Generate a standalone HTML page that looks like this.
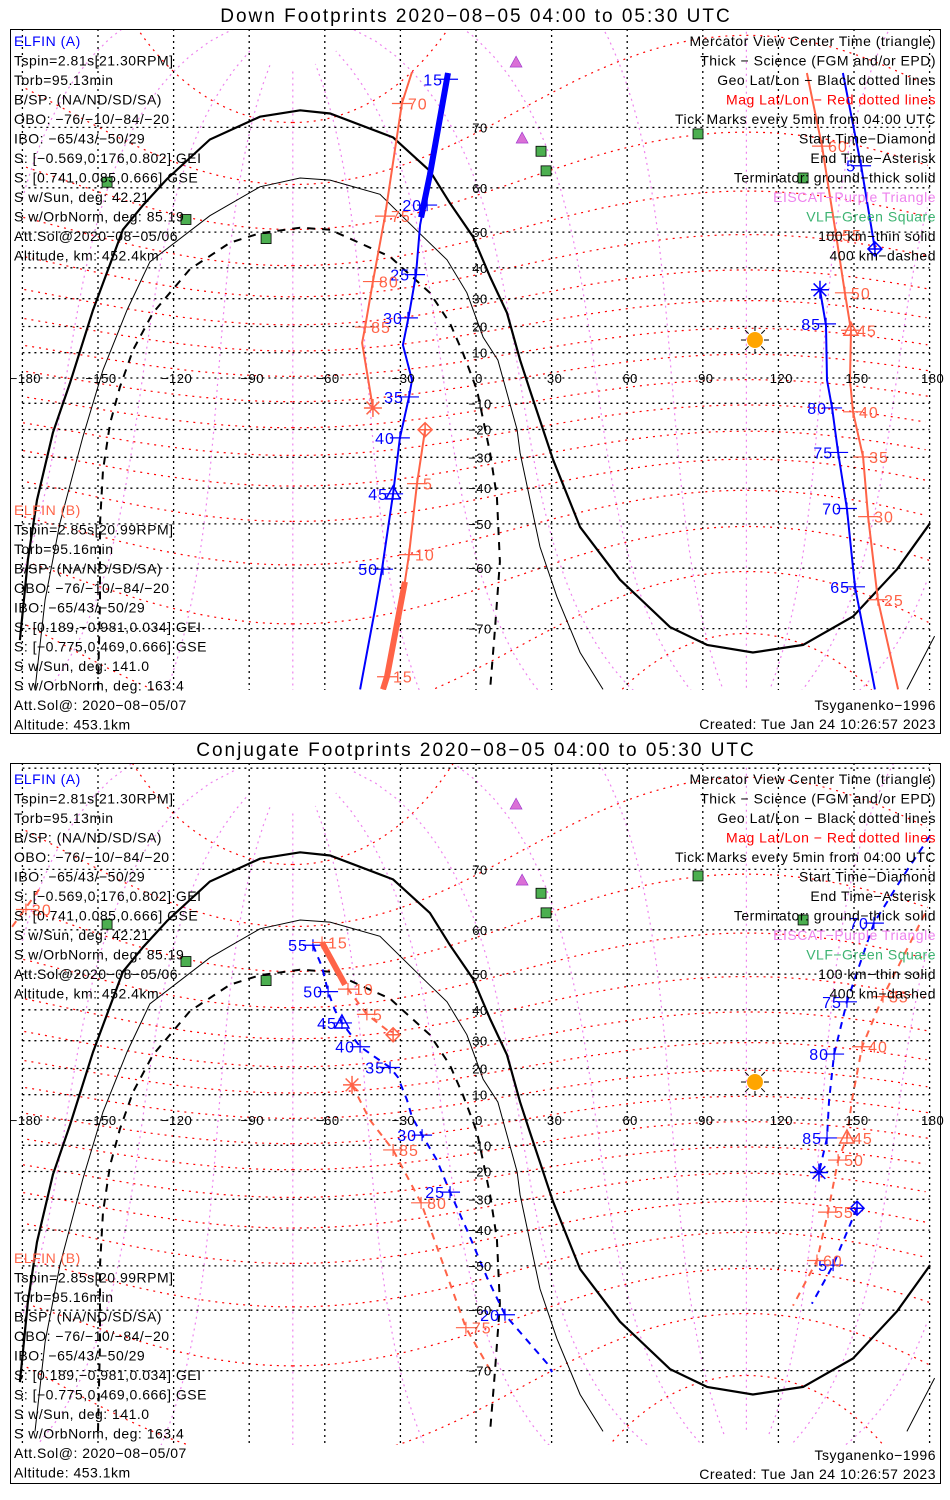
<!DOCTYPE html>
<html><head><meta charset="utf-8"><style>
html,body{margin:0;padding:0;background:#fff;overflow:hidden;width:950px;height:1500px;}
svg{display:block;font-family:"Liberation Sans",sans-serif;}
</style></head><body>
<svg id="chart" width="950" height="1500" viewBox="0 0 950 1500" xmlns="http://www.w3.org/2000/svg">
<rect x="0" y="0" width="950" height="1500" fill="#fff"/>
</svg>
<script>
// ---------- data (lon / lat in degrees) ----------
const termGroundLon=[-181,-177.8,-174.2,-167.9,-161.1,-152.0,-140.1,-132.1,-122.6,-105.6,-85.7,-69.8,-57.9,-32.9,-18.3,-10.3,-1.2,5.6,12.3,17.5,21.4,30.6,41.3,57.1,77.0,91.7,109.9,129.8,149.6,167.1,180.2];
const termGroundLat=[-71.5,-58.3,-43.5,-21.2,-2.0,26.0,50.6,56.4,61.7,68.3,71.4,72.2,71.8,68.6,63.2,56.8,48.8,37.2,25.0,7.1,-4.8,-30.8,-50.8,-62.2,-69.8,-72.1,-73.0,-72.1,-68.3,-60.2,-49.8];
const term100Lon=[-175,-171,-165.1,-156,-148,-138.5,-129.4,-105.6,-85.7,-69.8,-57.9,-38.1,-21.0,-11.5,-3.6,2.8,8.7,16.3,17.5,25.4,32.1,41.3,50.4];
const term100Lat=[-76.8,-65.7,-49.8,-22.7,3.2,26,41.8,54,60.2,61.9,61.5,58.7,48.8,42.4,32,16,7.1,-20.1,-28.5,-55.5,-65.2,-73,-76.8];
const term100bLon=[171,182];
const term100bLat=[-76.8,-71.0];
const term400Lon=[-150,-149.2,-149.2,-148,-145.2,-141.3,-136.1,-128.2,-113.5,-97.6,-85.7,-69.8,-57.9,-34.1,-18.3,-10.3,-5.2,0.4,5.6,8.3,9.5,7.5,5.6];
const term400Lat=[-76.8,-65.7,-49.8,-34.3,-17.7,-3.6,11,25,39.6,47.2,49.7,51.1,50.6,43.3,32,21.2,9.9,-4.8,-28.5,-42.6,-58.7,-70.2,-76.8];
const vlfLon=[-146.4,-115.1,-83.3,25.8,27.8,88.1,129.8];
const vlfLat=[61.1,53.1,48.3,66.5,63.2,69.1,61.9];
const eiscatLon=[15.9,18.3];
const eiscatLat=[77.2,68.5];
const sunLon=[110.7];
const sunLat=[14.9];

// Down footprints, ELFIN A
const dA1Lon=[-11.1,-18.3,-22.2,-23.8,-26.6,-29.0,-25.4,-26.6,-30.2,-32.9,-37.3,-40.1,-46.0];
const dA1Lat=[76.2,62.5,51.8,37.9,24.3,13.0,-0.8,-7.5,-23.1,-41.7,-60.2,-67.3,-76.8];
const dASciLon=[-11.1,-18.3,-21.8];
const dASciLat=[76.2,62.5,53.6];
const dA2Lon=[145.6,152.8,158.3];
const dA2Lat=[76.2,64.1,45.5];
const dA3Lon=[136.5,138.9,139.3,141.3,143.7,147.2,150.4,158.3];
const dA3Lat=[33.0,20.4,-0.8,-11.8,-28.3,-45.9,-63.5,-76.8];
const dATickLon=[-11.1,-19.4,-24.2,-27.0,-26.6,-30.2,-32.9,-36.9,152.8,138.9,141.3,143.7,147.2,150.4];
const dATickLat=[75.6,56.4,37.9,23.2,-7.5,-23.1,-41.7,-60.2,64.1,21.0,-11.8,-28.3,-45.9,-63.5];
const dATickLbl=["15","20","25","30","35","40","45","50","5","85","80","75","70","65"];
const dAStart=[158.3,45.5], dAEnd=[136.5,33.0], dACenter=[-32.9,-41.7];
// Down footprints, ELFIN B
const dB1Lon=[-25.4,-29.4,-36.1,-40.9,-44.0,-45.2,-40.9];
const dB1Lat=[76.3,73.0,53.9,35.7,19.8,13.8,-11.8];
const dB2Lon=[-20.2,-23.4,-26.6,-28.2,-35.3,-36.9];
const dB2Lat=[-20.1,-38.6,-57.2,-62.6,-75.6,-76.8];
const dBSciLon=[-28.2,-35.3,-36.9];
const dBSciLat=[-62.6,-75.6,-76.8];
const dB3Lon=[131.3,137.3,142.9,146.4,148.8,148.4,149.6,153.6,155.6,159.5,167.5];
const dB3Lat=[76.2,67.3,49.2,32.0,18.6,-0.8,-13.3,-29.9,-48.1,-65.7,-76.8];
const dBTickLon=[-29.4,-36.1,-40.9,-44.0,-23.4,-26.6,-35.3,137.3,142.9,146.4,148.8,149.6,153.6,155.6,159.5];
const dBTickLat=[73.0,53.9,35.7,19.8,-38.6,-57.2,-75.6,67.3,49.2,32.0,18.6,-13.3,-29.9,-48.1,-65.7];
const dBTickLbl=["70","75","80","85","5","10","15","60","55","50","45","40","35","30","25"];
const dBStart=[-20.2,-20.1], dBEnd=[-40.9,-11.8], dBCenter=[148.8,18.6];
// Conjugate footprints, ELFIN A
const cA1Lon=[-64.7,-61.1,-58.7,-56.0,-53.2,-46.0,-34.1,-31.0,-27.4,-25.4,-21.4,-15.5,-10.3,-3.6,4.4,11.5,28.2,30.2];
const cA1Lat=[56.8,51.8,45.3,39.9,35.9,27.9,20.4,16.7,7.9,1.2,-6.0,-15.7,-27.5,-39.9,-52.9,-60.9,-69.0,-70.2];
const cA2Lon=[180.2,169.4,157.9,147.2,142.1,140.1,139.3,136.1];
const cA2Lat=[74.1,69.0,61.3,42.4,25.3,7.9,-7.1,-20.4];
const cA3Lon=[151.2,141.7,133.3];
const cA3Lat=[-33.0,-49.8,-58.7];
const cATickLon=[-64.7,-58.7,-53.2,-46.0,-34.1,-21.4,-10.3,11.5,157.9,147.2,142.1,139.3,141.7];
const cATickLat=[56.8,45.3,35.9,27.9,20.4,-6.0,-27.5,-60.9,61.3,42.4,25.3,-7.1,-49.8];
const cATickLbl=["55","50","45","40","35","30","25","20","70","75","80","85","5"];
const cAStart=[151.2,-33.0], cAEnd=[136.1,-20.4], cACenter=[-53.2,35.9];
// Conjugate footprints, ELFIN B
const cB1Lon=[-61.1,-52.0,-50.8,-43.3,-32.9];
const cB1Lat=[57.4,47.2,46.0,38.6,32.0];
const cBSciLon=[-61.1,-52.0];
const cBSciLat=[57.4,47.2];
const cB2Lon=[-49.2,-42.1,-32.9,-21.8,-4.0,5.6];
const cB2Lat=[13.8,0,-11.8,-31.2,-63.3,-69.9];
const cB3Lon=[178.2,161.5,153.2,149.2,147.2,143.7,139.7,135.3,125.8];
const cB3Lat=[63.1,43.9,27.9,7.9,-7.1,-15.7,-34.3,-48.6,-59.1];
const cB4Lon=[-184.1,-173.0];
const cB4Lat=[60.6,67.3];
const cBTickLon=[-61.1,-50.8,-43.3,-32.9,-21.8,-4.0,161.5,153.2,147.2,143.7,139.7,135.3,-178.6];
const cBTickLat=[57.4,46.0,38.6,-11.8,-31.2,-63.3,43.9,27.9,-7.1,-15.7,-34.3,-48.6,63.8];
const cBTickLbl=["15","10","5","85","80","75","35","40","45","50","55","60","30"];
const cBStart=[-32.9,32.0], cBEnd=[-49.2,13.8], cBCenter=[147.2,-7.1];

const textA=["ELFIN (A)","Tspin=2.81s[21.30RPM]","Torb=95.13min","B/SP: (NA/ND/SD/SA)","OBO: \u221276/\u221210/\u221284/\u221220","IBO: \u221265/43/\u221250/29","S: [\u22120.569,0.176,0.802] GEI","S: [0.741,0.085,0.666] GSE","S w/Sun, deg: 42.21","S w/OrbNorm, deg: 85.19","Att.Sol@2020\u221208\u221205/06","Altitude, km: 452.4km"];
const textB=["ELFIN (B)","Tspin=2.85s[20.99RPM]","Torb=95.16min","B/SP: (NA/ND/SD/SA)","OBO: \u221276/\u221210/\u221284/\u221220","IBO: \u221265/43/\u221250/29","S: [0.189,\u22120.981,0.034] GEI","S: [\u22120.775,0.469,0.666] GSE","S w/Sun, deg: 141.0","S w/OrbNorm, deg: 163.4","Att.Sol@: 2020\u221208\u221205/07","Altitude: 453.1km"];
const legendText=["Mercator View Center Time (triangle)","Thick \u2212 Science (FGM and/or EPD)","Geo Lat/Lon \u2212 Black dotted lines","Mag Lat/Lon \u2212 Red dotted lines","Tick Marks every 5min from 04:00 UTC","Start Time\u2212Diamond","End Time\u2212Asterisk","Terminator: ground\u2212thick solid","EISCAT\u2212Purple Triangle","VLF\u2212Green Square","100 km\u2212thin solid","400 km\u2212dashed"];
const legendColor=["#000","#000","#000","#ff0000","#000","#000","#000","#000","#ee82ee","#3cb371","#000","#000"];

// ---------- drawing ----------
const NS='http://www.w3.org/2000/svg';
const svg=document.getElementById('chart');
const D=Math.PI/180;
const BLUE='#0000ff', RED='#ff6347';
function X(lon){return 476+lon*2.52;}
function Y(lat,y0){return y0-144.4*Math.log(Math.tan(Math.PI/4+lat*D/2));}
function mk(tag,parent){const e=document.createElementNS(NS,tag);parent.appendChild(e);return e;}
function pathFrom(lons,lats,y0){
  let d='';
  for(let i=0;i<lons.length;i++){
    const x=X(lons[i]),y=Y(lats[i],y0);
    const jump=i>0&&Math.abs(lons[i]-lons[i-1])>180;
    d+=(i===0||jump?'M':'L')+x.toFixed(1)+','+y.toFixed(1);
  }
  return d;
}
function magToGeo(mlat,mlon){
  const a=(90-80.65)*D,p=-72.68*D;
  const cl=Math.cos(mlat*D);
  const v0=cl*Math.cos(mlon*D),v1=cl*Math.sin(mlon*D),v2=Math.sin(mlat*D);
  const x1=v0*Math.cos(a)+v2*Math.sin(a),y1=v1,z1=-v0*Math.sin(a)+v2*Math.cos(a);
  const x2=x1*Math.cos(p)-y1*Math.sin(p),y2=x1*Math.sin(p)+y1*Math.cos(p);
  return [Math.atan2(y2,x2)/D,Math.asin(Math.max(-1,Math.min(1,z1)))/D];
}
function text(parent,x,y,s,size,color,anchor,ls){
  const t=mk('text',parent);
  t.setAttribute('x',x);t.setAttribute('y',y);
  t.setAttribute('font-size',size);t.setAttribute('fill',color);
  t.setAttribute('text-anchor',anchor||'start');
  if(ls)t.setAttribute('letter-spacing',ls);
  t.textContent=s;
  return t;
}

const panels=[
 {id:'down',top:29,bottom:733,y0:378,mapBottom:690,titleY:22,aOff:17,bOff:218,title:'Down Footprints 2020\u221208\u221205 04:00 to 05:30 UTC',dash:null,
  A:{segs:[[dA1Lon,dA1Lat],[dA2Lon,dA2Lat],[dA3Lon,dA3Lat]],sci:[[dASciLon,dASciLat]],tl:dATickLon,tt:dATickLat,lb:dATickLbl,s:dAStart,e:dAEnd,c:dACenter},
  B:{segs:[[dB1Lon,dB1Lat],[dB2Lon,dB2Lat],[dB3Lon,dB3Lat]],sci:[[dBSciLon,dBSciLat]],tl:dBTickLon,tt:dBTickLat,lb:dBTickLbl,s:dBStart,e:dBEnd,c:dBCenter}},
 {id:'conjugate',top:763,bottom:1483,y0:1120,mapBottom:1445,titleY:756,aOff:21,bOff:220,title:'Conjugate Footprints 2020\u221208\u221205 04:00 to 05:30 UTC',dash:'7,6',
  A:{segs:[[cA1Lon,cA1Lat],[cA2Lon,cA2Lat],[cA3Lon,cA3Lat]],sci:[],tl:cATickLon,tt:cATickLat,lb:cATickLbl,s:cAStart,e:cAEnd,c:cACenter},
  B:{segs:[[cB1Lon,cB1Lat],[cB2Lon,cB2Lat],[cB3Lon,cB3Lat],[cB4Lon,cB4Lat]],sci:[[cBSciLon,cBSciLat]],tl:cBTickLon,tt:cBTickLat,lb:cBTickLbl,s:cBStart,e:cBEnd,c:cBCenter}}
];

panels.forEach(function(P){
  const g=mk('g',svg);
  
  
  const title=text(g,476,P.titleY,P.title,19,'#000','middle',2);
  
  
  const frame=mk('rect',g);
  frame.setAttribute('x',10.5);frame.setAttribute('y',P.top+0.5);
  frame.setAttribute('width',930);frame.setAttribute('height',P.bottom-P.top);
  frame.setAttribute('fill','none');frame.setAttribute('stroke','#000');
  
  

  const clip=mk('clipPath',g);clip.setAttribute('id','clip-'+P.id);
  const cr=mk('rect',clip);
  cr.setAttribute('x',11);cr.setAttribute('y',P.top+1);cr.setAttribute('width',929);cr.setAttribute('height',P.mapBottom-P.top-1);
  const map=mk('g',g);
  map.setAttribute('clip-path','url(#clip-'+P.id+')');
  
  

  for(let ml=0;ml<360;ml+=30){
    const lo=[],la=[];
    for(let m=-86;m<=86;m+=2){const q=magToGeo(m,ml);lo.push(q[0]);la.push(q[1]);}
    const p=mk('path',map);
    p.setAttribute('d',pathFrom(lo,la,P.y0));
    p.setAttribute('fill','none');p.setAttribute('stroke','#ee82ee');p.setAttribute('stroke-width',1.2);p.setAttribute('stroke-dasharray','2,4');
    
    
  }
  for(let m=-80;m<=80;m+=10){
    const lo=[],la=[];
    for(let ml=0;ml<=360;ml+=2){const q=magToGeo(m,ml);lo.push(q[0]);la.push(q[1]);}
    const p=mk('path',map);
    p.setAttribute('d',pathFrom(lo,la,P.y0));
    p.setAttribute('fill','none');p.setAttribute('stroke','#ff0000');p.setAttribute('stroke-width',1.2);p.setAttribute('stroke-dasharray','2,5');
    
    
  }
  for(let lat=-70;lat<=80;lat+=10){
    const p=mk('path',map);
    const y=Y(lat,P.y0).toFixed(1);
    p.setAttribute('d','M'+X(-180)+','+y+'L'+X(180)+','+y);
    p.setAttribute('stroke','#000');p.setAttribute('stroke-width',1.3);p.setAttribute('stroke-dasharray','2,4');
    
    
  }
  for(let lon=-180;lon<=180;lon+=30){
    const p=mk('path',map);
    p.setAttribute('d','M'+X(lon)+','+P.top+'L'+X(lon)+','+P.mapBottom);
    p.setAttribute('stroke','#000');p.setAttribute('stroke-width',1.3);p.setAttribute('stroke-dasharray','2,4');
    
    
  }
  [[termGroundLon,termGroundLat,2.2,null,'terminator-ground'],[term100Lon,term100Lat,1,null,'terminator-100km'],[term100bLon,term100bLat,1,null,'terminator-100km'],[term400Lon,term400Lat,2,'8,7','terminator-400km']].forEach(function(t){
    const p=mk('path',map);
    p.setAttribute('d',pathFrom(t[0],t[1],P.y0));
    p.setAttribute('fill','none');p.setAttribute('stroke','#000');p.setAttribute('stroke-width',t[2]);
    if(t[3])p.setAttribute('stroke-dasharray',t[3]);
    
    
  });
  for(let i=0;i<vlfLon.length;i++){
    const x=X(vlfLon[i]),y=Y(vlfLat[i],P.y0);
    const r=mk('rect',map);
    r.setAttribute('x',x-5);r.setAttribute('y',y-5);r.setAttribute('width',10);r.setAttribute('height',10);
    r.setAttribute('fill','#4caf50');r.setAttribute('stroke','#000');r.setAttribute('stroke-width',0.8);
    
    
  }
  for(let i=0;i<eiscatLon.length;i++){
    const x=X(eiscatLon[i]),y=Y(eiscatLat[i],P.y0);
    const t=mk('polygon',map);
    t.setAttribute('points',x+','+(y-6)+' '+(x-6)+','+(y+5)+' '+(x+6)+','+(y+5));
    t.setAttribute('fill','#da70d6');t.setAttribute('stroke','#9932cc');t.setAttribute('stroke-width',0.6);
    
    
  }
  const sx=X(sunLon[0]),sy=Y(sunLat[0],P.y0);
  const sg=mk('g',map);
  
  
  for(let k=0;k<8;k++){
    const a=k*Math.PI/4;
    const l=mk('line',sg);
    l.setAttribute('x1',sx+Math.cos(a)*9);l.setAttribute('y1',sy+Math.sin(a)*9);
    l.setAttribute('x2',sx+Math.cos(a)*14);l.setAttribute('y2',sy+Math.sin(a)*14);
    l.setAttribute('stroke','#000');l.setAttribute('stroke-width',1);
  }
  const sc=mk('circle',sg);
  sc.setAttribute('cx',sx);sc.setAttribute('cy',sy);sc.setAttribute('r',8);sc.setAttribute('fill','#ffa500');

  [['A',BLUE],['B',RED]].forEach(function(pair){
    const S=P[pair[0]],col=pair[1];
    const tg=mk('g',map);
    
    
    S.segs.forEach(function(sg2){
      const p=mk('path',tg);
      p.setAttribute('d',pathFrom(sg2[0],sg2[1],P.y0));
      p.setAttribute('fill','none');p.setAttribute('stroke',col);p.setAttribute('stroke-width',2);
      if(P.dash)p.setAttribute('stroke-dasharray',P.dash);
      
      
    });
    S.sci.forEach(function(sg2){
      const p=mk('path',tg);
      p.setAttribute('d',pathFrom(sg2[0],sg2[1],P.y0));
      p.setAttribute('fill','none');p.setAttribute('stroke',col);p.setAttribute('stroke-width',6);
      
      
    });
    for(let i=0;i<S.tl.length;i++){
      const x=X(S.tl[i]),y=Y(S.tt[i],P.y0);
      const l=mk('path',tg);
      l.setAttribute('d','M'+(x-10)+','+y+'L'+(x+10)+','+y+'M'+x+','+(y-6)+'L'+x+','+(y+6));
      l.setAttribute('stroke',col);l.setAttribute('stroke-width',1.2);
      
      
      const t=text(tg,pair[0]==='A'?x-5:x+6,y+6,S.lb[i],16,col,pair[0]==='A'?'end':'start',1);
      
      
    }
    let x=X(S.s[0]),y=Y(S.s[1],P.y0);
    const dm=mk('path',tg);
    dm.setAttribute('d','M'+x+','+(y-7)+'L'+(x+7)+','+y+'L'+x+','+(y+7)+'L'+(x-7)+','+y+'Z M'+(x-7)+','+y+'L'+(x+7)+','+y+'M'+x+','+(y-7)+'L'+x+','+(y+7));
    dm.setAttribute('fill','none');dm.setAttribute('stroke',col);dm.setAttribute('stroke-width',1.5);
    
    
    x=X(S.e[0]);y=Y(S.e[1],P.y0);
    let d='';
    for(let k=0;k<4;k++){const a=k*Math.PI/4;d+='M'+(x-Math.cos(a)*9)+','+(y-Math.sin(a)*9)+'L'+(x+Math.cos(a)*9)+','+(y+Math.sin(a)*9);}
    const as=mk('path',tg);
    as.setAttribute('d',d);as.setAttribute('stroke',col);as.setAttribute('stroke-width',1.5);
    
    
    x=X(S.c[0]);y=Y(S.c[1],P.y0);
    const tr=mk('polygon',tg);
    tr.setAttribute('points',x+','+(y-8)+' '+(x-7)+','+(y+5)+' '+(x+7)+','+(y+5));
    tr.setAttribute('fill','none');tr.setAttribute('stroke',col);tr.setAttribute('stroke-width',1.5);
    
    
  });

  for(let lon=-180;lon<=180;lon+=30){
    const t=text(g,X(lon)+3,P.y0+5,(lon<0?'\u2212':'')+Math.abs(lon),13,'#000','middle',0.5);
    
    
  }
  for(let lat=-70;lat<=70;lat+=10){
    if(lat===0)continue;
    const t=text(g,480,Y(lat,P.y0)+5,(lat<0?'\u2212':'')+Math.abs(lat),13,'#000','middle',0.5);
    
    
  }
  const aTop=P.top+P.aOff, bTop=P.bottom-P.bOff;
  textA.forEach(function(s,i){
    const t=text(g,14,aTop+19.5*i,s,14,i===0?BLUE:'#000','start',0.5);
    
    
  });
  textB.forEach(function(s,i){
    const t=text(g,14,bTop+19.5*i,s,14,i===0?RED:'#000','start',0.5);
    
    
  });
  legendText.forEach(function(s,i){
    const t=text(g,936,aTop+19.5*i,s,14,legendColor[i],'end',0.5);
    
    
  });
  const m1=text(g,936,P.bottom-23,'Tsyganenko\u22121996',14,'#000','end',0.5);
  
  
  const m2=text(g,936,P.bottom-4,'Created: Tue Jan 24 10:26:57 2023',14,'#000','end',0.5);
  
  
});
</script>
</body></html>
